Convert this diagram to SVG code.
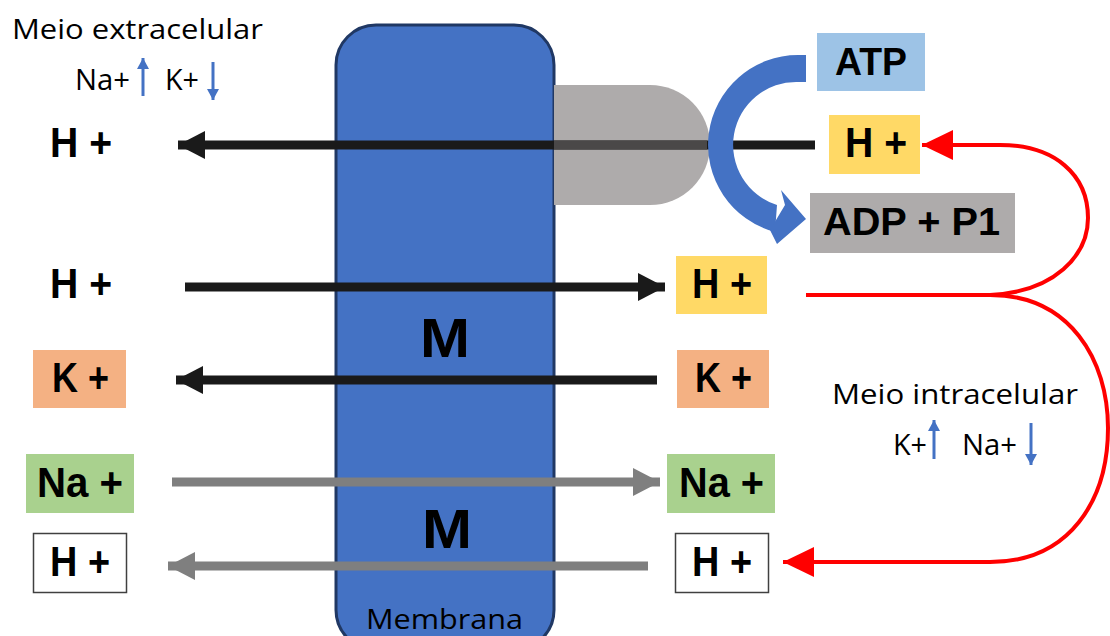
<svg xmlns="http://www.w3.org/2000/svg" width="1110" height="636" viewBox="0 0 1110 636">
<defs>
<style>
.lbl{font-family:"Liberation Sans",Arial,sans-serif;font-weight:bold;font-size:42px;fill:#000}
.lb2{font-family:"Liberation Sans",Arial,sans-serif;font-weight:bold;font-size:38px;fill:#000}
.txt{font-family:"Open Sans","Liberation Sans",sans-serif;font-size:28px;fill:#000}
.sm{font-family:"Open Sans","Liberation Sans",sans-serif;font-size:29px;fill:#000}
.blk{stroke:#1a1a1a;stroke-width:9;fill:none}
.gry{stroke:#7f7f7f;stroke-width:9;fill:none}
.red{stroke:#ff0000;stroke-width:4;fill:none}
.ba{stroke:#4472c4;stroke-width:3;fill:none}
</style>
<marker id="mb" markerUnits="userSpaceOnUse" markerWidth="28" markerHeight="28" refX="27" refY="14" orient="auto"><path d="M0,0 L27,14 L0,28 Z" fill="#1a1a1a"/></marker>
<marker id="mg" markerUnits="userSpaceOnUse" markerWidth="28" markerHeight="28" refX="27" refY="14" orient="auto"><path d="M0,0 L27,14 L0,28 Z" fill="#7f7f7f"/></marker>
<marker id="mr" markerUnits="userSpaceOnUse" markerWidth="32" markerHeight="30" refX="31" refY="15" orient="auto"><path d="M0,0 L31,15 L0,30 Z" fill="#ff0000"/></marker>
<marker id="mbl" markerUnits="userSpaceOnUse" markerWidth="12" markerHeight="12" refX="11" refY="6" orient="auto"><path d="M0,0 L11,6 L0,12 Z" fill="#4472c4"/></marker>
</defs>

<g id="membrane">
<rect x="336" y="25" width="218" height="625" rx="40" ry="40" fill="#4472c4" stroke="#203864" stroke-width="3"/>
<text x="420" y="357" class="lbl" style="font-size:56px" textLength="50" lengthAdjust="spacingAndGlyphs">M</text>
<text x="422" y="548" class="lbl" style="font-size:56px" textLength="50" lengthAdjust="spacingAndGlyphs">M</text>
<text x="366" y="629" class="txt" textLength="157" lengthAdjust="spacingAndGlyphs">Membrana</text>
</g>

<g id="pump">
<path d="M554,85 L650,85 A60,60 0 0 1 650,205 L554,205 Z" fill="#aeabab"/>
</g>

<g id="connectors">
<line x1="815" y1="145" x2="178" y2="145" class="blk" marker-end="url(#mb)"/>
<line x1="554" y1="145" x2="707" y2="145" stroke="#4a4848" stroke-width="9"/>
<line x1="185" y1="287" x2="665" y2="287" class="blk" marker-end="url(#mb)"/>
<line x1="657" y1="380" x2="176" y2="380" class="blk" marker-end="url(#mb)"/>
<line x1="172" y1="482" x2="660" y2="482" class="gry" marker-end="url(#mg)"/>
<line x1="648" y1="566" x2="168" y2="566" class="gry" marker-end="url(#mg)"/>
<path d="M806,295 L990,295 C1055,292 1088,255 1088,218 C1088,175 1055,145 1000,145 L922,145" class="red" marker-end="url(#mr)"/>
<path d="M990,295 C1070,295 1108,360 1108,428 C1108,500 1070,562 990,562 L783,562" class="red" marker-end="url(#mr)"/>
<path d="M806,55 L798,55 A90,90 0 0 0 775,232 L777,205 A63,63 0 0 1 798,82 L806,82 Z" fill="#4472c4"/>
<path d="M781,190 L806,219 L777,244 L770,230 L785,205 Z" fill="#4472c4"/>
</g>

<g id="extracel">
<text x="12" y="39" class="txt" textLength="251" lengthAdjust="spacingAndGlyphs">Meio extracelular</text>
<text x="75" y="90" class="sm" textLength="55" lengthAdjust="spacingAndGlyphs">Na+</text>
<line x1="143" y1="96" x2="143" y2="58" class="ba" marker-end="url(#mbl)"/>
<text x="165" y="90" class="sm" textLength="34" lengthAdjust="spacingAndGlyphs">K+</text>
<line x1="213" y1="62" x2="213" y2="100" class="ba" marker-end="url(#mbl)"/>
</g>

<g id="intracel">
<text x="832" y="404" class="txt" textLength="246" lengthAdjust="spacingAndGlyphs">Meio intracelular</text>
<text x="893" y="455" class="sm" textLength="34" lengthAdjust="spacingAndGlyphs">K+</text>
<line x1="934" y1="459" x2="934" y2="420" class="ba" marker-end="url(#mbl)"/>
<text x="962" y="455" class="sm" textLength="55" lengthAdjust="spacingAndGlyphs">Na+</text>
<line x1="1031" y1="423" x2="1031" y2="465" class="ba" marker-end="url(#mbl)"/>
</g>

<g id="atp"><rect x="817" y="33" width="108" height="58" fill="#9dc3e6"/><text x="835" y="75" class="lb2" textLength="72" lengthAdjust="spacingAndGlyphs">ATP</text></g>
<g id="h-top-right"><rect x="829" y="115" width="91" height="59" fill="#ffd966"/><text x="845" y="157" class="lbl" textLength="62" lengthAdjust="spacingAndGlyphs">H +</text></g>
<g id="adp"><rect x="810" y="193" width="205" height="60" fill="#aeabab"/><text x="823" y="235" class="lb2" textLength="177" lengthAdjust="spacingAndGlyphs">ADP + P1</text></g>
<g id="h-mid-right"><rect x="676" y="256" width="91" height="58" fill="#ffd966"/><text x="692" y="298" class="lbl" textLength="60" lengthAdjust="spacingAndGlyphs">H +</text></g>
<g id="k-right"><rect x="677" y="350" width="92" height="58" fill="#f4b183"/><text x="695" y="392" class="lbl" textLength="57" lengthAdjust="spacingAndGlyphs">K +</text></g>
<g id="na-right"><rect x="667" y="454" width="108" height="59" fill="#a9d18e"/><text x="679" y="497" class="lbl" textLength="85" lengthAdjust="spacingAndGlyphs">Na +</text></g>
<g id="h-bot-right"><rect x="675.5" y="533.5" width="93" height="59" fill="#fff" stroke="#404040" stroke-width="1.5"/><text x="692" y="576" class="lbl" textLength="60" lengthAdjust="spacingAndGlyphs">H +</text></g>

<g id="h-top-left"><text x="50" y="157" class="lbl" textLength="62" lengthAdjust="spacingAndGlyphs">H +</text></g>
<g id="h-mid-left"><text x="50" y="298" class="lbl" textLength="62" lengthAdjust="spacingAndGlyphs">H +</text></g>
<g id="k-left"><rect x="33" y="350" width="93" height="58" fill="#f4b183"/><text x="52" y="392" class="lbl" textLength="57" lengthAdjust="spacingAndGlyphs">K +</text></g>
<g id="na-left"><rect x="26" y="454" width="108" height="59" fill="#a9d18e"/><text x="37" y="497" class="lbl" textLength="86" lengthAdjust="spacingAndGlyphs">Na +</text></g>
<g id="h-bot-left"><rect x="33.5" y="533.5" width="93" height="59" fill="#fff" stroke="#404040" stroke-width="1.5"/><text x="50" y="576" class="lbl" textLength="60" lengthAdjust="spacingAndGlyphs">H +</text></g>
</svg>
